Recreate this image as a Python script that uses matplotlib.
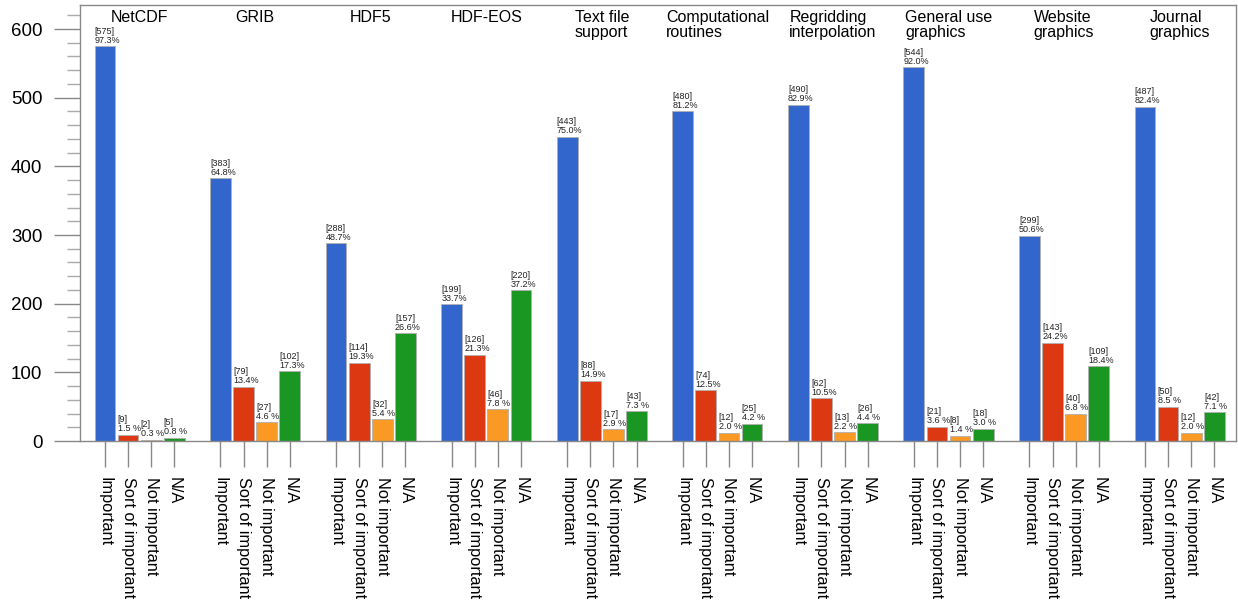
import numpy as np
import matplotlib
matplotlib.use("Agg")
import matplotlib.pyplot as plt
from matplotlib.ticker import MultipleLocator

plt.rcParams['font.family'] = ['Liberation Sans', 'DejaVu Sans']

# group titles and answer categories
groups = ["NetCDF", "GRIB", "HDF5", "HDF-EOS", "Text file\nsupport",
          "Computational\nroutines", "Regridding\ninterpolation",
          "General use\ngraphics", "Website\ngraphics", "Journal\ngraphics"]
answers = ["Important", "Sort of important", "Not important", "N/A"]

# counts per group: Important, Sort of important, Not important, N/A
important = [575, 383, 288, 199, 443, 480, 490, 544, 299, 487]
sort_of = [9, 79, 114, 126, 88, 74, 62, 21, 143, 50]
not_important = [2, 27, 32, 46, 17, 12, 13, 8, 40, 12]
not_applicable = [5, 102, 157, 220, 43, 25, 26, 18, 109, 42]

# percentages as printed on the chart
pct_important = [97.3, 64.8, 48.7, 33.7, 75.0, 81.2, 82.9, 92.0, 50.6, 82.4]
pct_sort_of = [1.5, 13.4, 19.3, 21.3, 14.9, 12.5, 10.5, 3.6, 24.2, 8.5]
pct_not_important = [0.3, 4.6, 5.4, 7.8, 2.9, 2.0, 2.2, 1.4, 6.8, 2.0]
pct_not_applicable = [0.8, 17.3, 26.6, 37.2, 7.3, 4.2, 4.4, 3.0, 18.4, 7.1]

colors = ["#3366cc", "#dc3912", "#fa9a25", "#1a9623"]

counts = [important, sort_of, not_important, not_applicable]
pcts = [pct_important, pct_sort_of, pct_not_important, pct_not_applicable]

fig = plt.figure(figsize=(12.38, 6.02), dpi=100)
ax = fig.add_axes([0.0646, 0.2674, 0.934, 0.7243])

width = 0.9
xticks = []
xlabels = []
for g in range(len(groups)):
    for i in range(4):
        x = g * 5 + i
        v = counts[i][g]
        p = pcts[i][g]
        ax.bar(x, v, width=width, color=colors[i], edgecolor="#b0b0b0",
               linewidth=0.6, zorder=2)
        ptxt = f"{p:.1f}%" if p >= 10 else f"{p:.1f} %"
        ax.text(x - width / 2, v + 2, f"[{v}]\n{ptxt}", ha="left", va="bottom",
                fontsize=6.5, color="#222222", linespacing=1.0)
        xticks.append(x)
        xlabels.append(answers[i])
    ax.text(g * 5 + 1.5, 628, groups[g], ha="center", va="top",
            multialignment="left", fontsize=11.5, linespacing=1.05)

ax.set_xlim(-1.08, 48.95)
ax.set_ylim(0, 635)

ax.set_xticks(xticks)
ax.set_xticklabels(xlabels, rotation=270, ha="center", va="top", fontsize=11.8)
ax.yaxis.set_major_locator(MultipleLocator(100))
ax.yaxis.set_minor_locator(MultipleLocator(20))
ax.tick_params(axis="y", which="major", direction="out", length=19, width=1,
               color="#888888", labelsize=13.5, pad=8)
ax.tick_params(axis="y", which="minor", direction="out", length=9.5, width=1,
               color="#aaaaaa")
ax.tick_params(axis="x", which="major", direction="out", length=19, width=1,
               color="#888888", pad=7)

for s in ax.spines.values():
    s.set_color("#888888")
    s.set_linewidth(1)

fig.savefig("out.png", dpi=100)
